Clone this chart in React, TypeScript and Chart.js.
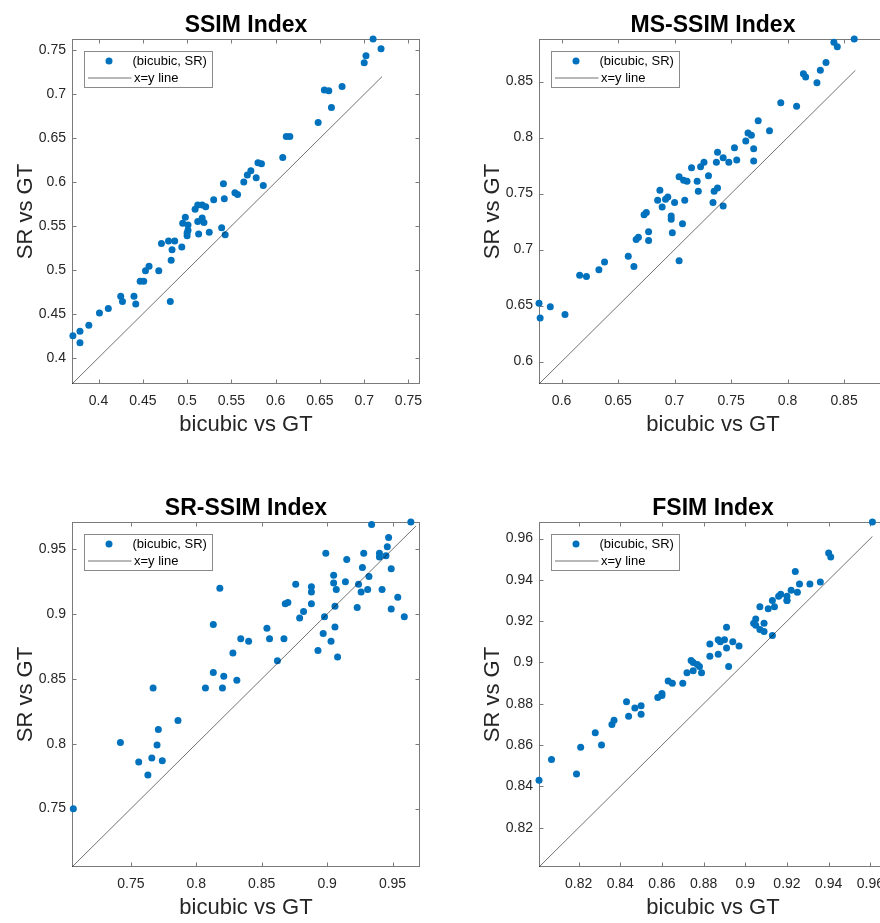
import React, { useEffect, useRef } from 'react';
import { Chart, registerables } from 'chart.js';

Chart.register(...registerables);

const FONT = "'Liberation Sans', Arial, Helvetica, sans-serif";
const BLUE = '#0072BD';
const TEXT = '#262626';

// ---------- SSIM ----------
const ssimBicubic = [0.371, 0.379, 0.379, 0.389, 0.401, 0.411, 0.425, 0.427, 0.440, 0.442,
  0.447, 0.451, 0.453, 0.457, 0.468, 0.481, 0.482, 0.471, 0.479, 0.486,
  0.483, 0.494, 0.495, 0.498, 0.501, 0.501, 0.500, 0.500, 0.513, 0.509,
  0.512, 0.517, 0.521, 0.512, 0.517, 0.519, 0.525, 0.539, 0.543, 0.530,
  0.542, 0.541, 0.554, 0.557, 0.564, 0.568, 0.572, 0.578, 0.580, 0.584,
  0.586, 0.608, 0.612, 0.616, 0.648, 0.663, 0.655, 0.660, 0.675, 0.700,
  0.702, 0.710, 0.719];
const ssimSR = [0.425, 0.430, 0.417, 0.437, 0.451, 0.456, 0.470, 0.464, 0.470, 0.461,
  0.487, 0.487, 0.499, 0.504, 0.499, 0.464, 0.511, 0.530, 0.533, 0.533,
  0.523, 0.526, 0.553, 0.560, 0.551, 0.545, 0.542, 0.539, 0.541, 0.569,
  0.574, 0.574, 0.572, 0.555, 0.559, 0.554, 0.543, 0.548, 0.540, 0.580,
  0.581, 0.598, 0.588, 0.586, 0.600, 0.608, 0.613, 0.605, 0.622, 0.621,
  0.596, 0.628, 0.652, 0.652, 0.668, 0.685, 0.705, 0.704, 0.709, 0.736,
  0.744, 0.763, 0.752];
const ssimRange = [0.370, 0.763];
const ssimLine = [0.370, 0.720];
const ssimTicks = [0.4, 0.45, 0.5, 0.55, 0.6, 0.65, 0.7, 0.75];
const ssimTickLabels = ['0.4', '0.45', '0.5', '0.55', '0.6', '0.65', '0.7', '0.75'];

// ---------- MS-SSIM ----------
const msBicubic = [0.580, 0.581, 0.590, 0.603, 0.616, 0.622, 0.633, 0.638, 0.659, 0.664,
  0.666, 0.668, 0.677, 0.677, 0.673, 0.675, 0.704, 0.698, 0.707, 0.697,
  0.697, 0.689, 0.685, 0.692, 0.700, 0.709, 0.734, 0.687, 0.694, 0.704,
  0.708, 0.711, 0.715, 0.720, 0.721, 0.723, 0.726, 0.730, 0.735, 0.738,
  0.743, 0.737, 0.738, 0.743, 0.748, 0.755, 0.753, 0.770, 0.770, 0.763,
  0.765, 0.768, 0.774, 0.784, 0.794, 0.808, 0.814, 0.816, 0.826, 0.829,
  0.834, 0.841, 0.844, 0.859];
const msSR = [0.652, 0.639, 0.649, 0.642, 0.677, 0.676, 0.682, 0.689, 0.694, 0.685,
  0.709, 0.711, 0.716, 0.708, 0.731, 0.733, 0.690, 0.715, 0.723, 0.730,
  0.727, 0.738, 0.744, 0.745, 0.742, 0.744, 0.742, 0.753, 0.747, 0.765,
  0.762, 0.761, 0.773, 0.761, 0.752, 0.774, 0.778, 0.766, 0.752, 0.755,
  0.739, 0.778, 0.787, 0.782, 0.778, 0.780, 0.791, 0.779, 0.790, 0.797,
  0.804, 0.802, 0.815, 0.806, 0.831, 0.828, 0.857, 0.854, 0.849, 0.860,
  0.867, 0.885, 0.881, 0.888];
const msRange = [0.580, 0.888];
const msLine = [0.580, 0.860];
const msTicks = [0.6, 0.65, 0.7, 0.75, 0.8, 0.85];
const msTickLabels = ['0.6', '0.65', '0.7', '0.75', '0.8', '0.85'];

// ---------- SR-SSIM ----------
const srBicubic = [0.818, 0.813, 0.834, 0.840, 0.828, 0.813, 0.821, 0.831, 0.767, 0.807,
  0.820, 0.854, 0.856, 0.867, 0.862, 0.868, 0.870, 0.876, 0.879, 0.882,
  0.888, 0.888, 0.888, 0.899, 0.898, 0.897, 0.893, 0.903, 0.906, 0.908,
  0.906, 0.905, 0.905, 0.907, 0.914, 0.915, 0.923, 0.924, 0.926, 0.927,
  0.928, 0.931, 0.932, 0.934, 0.940, 0.940, 0.945, 0.942, 0.946, 0.947,
  0.949, 0.949, 0.954, 0.959, 0.964, 0.706, 0.742, 0.756, 0.763, 0.766,
  0.770, 0.771, 0.774, 0.786];
const srSR = [0.920, 0.892, 0.881, 0.879, 0.870, 0.855, 0.852, 0.849, 0.843, 0.843,
  0.843, 0.889, 0.881, 0.881, 0.864, 0.908, 0.909, 0.923, 0.897, 0.902,
  0.921, 0.917, 0.908, 0.947, 0.898, 0.885, 0.872, 0.879, 0.890, 0.867,
  0.906, 0.930, 0.924, 0.919, 0.925, 0.942, 0.905, 0.923, 0.917, 0.936,
  0.947, 0.919, 0.929, 0.969, 0.947, 0.944, 0.945, 0.919, 0.952, 0.959,
  0.935, 0.904, 0.913, 0.898, 0.971, 0.750, 0.801, 0.786, 0.776, 0.789,
  0.799, 0.811, 0.787, 0.818];
const srRange = [0.705, 0.971];
const srLine = [0.705, 0.968];
const srXTicks = [0.75, 0.8, 0.85, 0.9, 0.95];
const srXTickLabels = ['0.75', '0.8', '0.85', '0.9', '0.95'];
const srYTicks = [0.75, 0.8, 0.85, 0.9, 0.95];
const srYTickLabels = ['0.75', '0.8', '0.85', '0.9', '0.95'];

// ---------- FSIM ----------
const fsimBicubic = [0.801, 0.807, 0.819, 0.821, 0.828, 0.831, 0.836, 0.837, 0.843, 0.844,
  0.847, 0.850, 0.850, 0.858, 0.860, 0.860, 0.863, 0.865, 0.870, 0.872,
  0.874, 0.875, 0.877, 0.878, 0.875, 0.879, 0.883, 0.883, 0.887, 0.887,
  0.888, 0.890, 0.891, 0.891, 0.892, 0.894, 0.897, 0.904, 0.905, 0.905,
  0.907, 0.909, 0.909, 0.907, 0.911, 0.914, 0.913, 0.913, 0.916, 0.917,
  0.920, 0.920, 0.920, 0.922, 0.925, 0.924, 0.926, 0.931, 0.936, 0.940,
  0.941, 0.961];
const fsimSR = [0.843, 0.853, 0.846, 0.859, 0.866, 0.860, 0.870, 0.872, 0.881, 0.874,
  0.878, 0.879, 0.875, 0.883, 0.884, 0.885, 0.891, 0.890, 0.890, 0.895,
  0.901, 0.900, 0.899, 0.898, 0.896, 0.895, 0.903, 0.909, 0.904, 0.911,
  0.910, 0.911, 0.917, 0.907, 0.898, 0.910, 0.908, 0.919, 0.921, 0.918,
  0.916, 0.915, 0.919, 0.927, 0.926, 0.927, 0.930, 0.913, 0.932, 0.933,
  0.930, 0.930, 0.932, 0.935, 0.934, 0.944, 0.938, 0.938, 0.939, 0.953,
  0.951, 0.968];
const fsimRange = [0.801, 0.968];
const fsimLine = [0.801, 0.961];
const fsimTicks = [0.82, 0.84, 0.86, 0.88, 0.9, 0.92, 0.94, 0.96];
const fsimTickLabels = ['0.82', '0.84', '0.86', '0.88', '0.9', '0.92', '0.94', '0.96'];

type Panel = {
  title: string;
  bicubic: number[];
  sr: number[];
  range: number[];
  line: number[];
  xTicks: number[];
  xLabels: string[];
  yTicks: number[];
  yLabels: string[];
  left: number;
  top: number;
};

const panels: Panel[] = [
  { title: 'SSIM Index', bicubic: ssimBicubic, sr: ssimSR, range: ssimRange, line: ssimLine,
    xTicks: ssimTicks, xLabels: ssimTickLabels, yTicks: ssimTicks, yLabels: ssimTickLabels, left: 0, top: 0 },
  { title: 'MS-SSIM Index', bicubic: msBicubic, sr: msSR, range: msRange, line: msLine,
    xTicks: msTicks, xLabels: msTickLabels, yTicks: msTicks, yLabels: msTickLabels, left: 467, top: 0 },
  { title: 'SR-SSIM Index', bicubic: srBicubic, sr: srSR, range: srRange, line: srLine,
    xTicks: srXTicks, xLabels: srXTickLabels, yTicks: srYTicks, yLabels: srYTickLabels, left: 0, top: 483 },
  { title: 'FSIM Index', bicubic: fsimBicubic, sr: fsimSR, range: fsimRange, line: fsimLine,
    xTicks: fsimTicks, xLabels: fsimTickLabels, yTicks: fsimTicks, yLabels: fsimTickLabels, left: 467, top: 483 },
];

const CW = 460;
const CH = 440;

function matlabPlugin(p: Panel) {
  return {
    id: 'matlabDecor',
    beforeDatasetsDraw(chart: any) {
      const { ctx, chartArea: a, scales } = chart;
      ctx.save();
      ctx.strokeStyle = '#7a7a7a';
      ctx.lineWidth = 1;
      const L = Math.round(a.left) + 0.5;
      const R = Math.round(a.right) - 0.5;
      const T = Math.round(a.top) + 0.5;
      const B = Math.round(a.bottom) - 0.5;
      ctx.strokeRect(L, T, R - L, B - T);
      const tl = 4;
      ctx.beginPath();
      p.xTicks.forEach((v) => {
        const x = Math.round(scales.x.getPixelForValue(v)) + 0.5;
        ctx.moveTo(x, B); ctx.lineTo(x, B - tl);
        ctx.moveTo(x, T); ctx.lineTo(x, T + tl);
      });
      p.yTicks.forEach((v) => {
        const y = Math.round(scales.y.getPixelForValue(v)) + 0.5;
        ctx.moveTo(L, y); ctx.lineTo(L + tl, y);
        ctx.moveTo(R, y); ctx.lineTo(R - tl, y);
      });
      ctx.stroke();
      ctx.restore();
    },
    afterDatasetsDraw(chart: any) {
      const { ctx, chartArea: a } = chart;
      ctx.save();
      // legend box
      const bx = a.left + 11.5;
      const by = a.top + 12;
      const bw = 128;
      const bh = 36;
      ctx.fillStyle = '#ffffff';
      ctx.fillRect(bx, by, bw, bh);
      ctx.strokeStyle = '#8a8a8a';
      ctx.lineWidth = 1;
      ctx.strokeRect(Math.round(bx) + 0.5, Math.round(by) + 0.5, bw, bh);
      ctx.fillStyle = BLUE;
      ctx.beginPath();
      ctx.arc(a.left + 37, a.top + 22, 3.5, 0, Math.PI * 2);
      ctx.fill();
      ctx.strokeStyle = 'rgba(0,0,0,0.8)';
      ctx.lineWidth = 0.7;
      ctx.beginPath();
      ctx.moveTo(a.left + 16, a.top + 39);
      ctx.lineTo(a.left + 59.5, a.top + 39);
      ctx.stroke();
      ctx.fillStyle = '#000000';
      ctx.font = `13px ${FONT}`;
      ctx.textAlign = 'left';
      ctx.textBaseline = 'middle';
      ctx.fillText('(bicubic, SR)', a.left + 60.5, a.top + 22);
      ctx.fillText('x=y line', a.left + 62, a.top + 39);
      ctx.restore();
    },
    afterDraw(chart: any) {
      const { ctx, chartArea: a } = chart;
      ctx.save();
      ctx.fillStyle = '#000000';
      ctx.font = `bold 23px ${FONT}`;
      ctx.textAlign = 'center';
      ctx.textBaseline = 'alphabetic';
      ctx.fillText(p.title, (a.left + a.right) / 2, a.top - 7);
      ctx.restore();
    },
  };
}

function makeConfig(p: Panel): any {
  const points = p.bicubic.map((x, i) => ({ x, y: p.sr[i] }));
  const lineData = [
    { x: p.line[0], y: p.line[0] },
    { x: p.line[1], y: p.line[1] },
  ];
  const tickFont = { family: FONT, size: 14 };
  const titleFont = { family: FONT, size: 22 };
  return {
    type: 'scatter',
    data: {
      datasets: [
        {
          label: 'x=y line',
          data: lineData,
          showLine: true,
          borderColor: 'rgba(0,0,0,0.8)',
          borderWidth: 0.7,
          pointRadius: 0,
          fill: false,
        },
        {
          label: '(bicubic, SR)',
          data: points,
          pointRadius: 3.5,
          pointHoverRadius: 3.5,
          backgroundColor: BLUE,
          borderWidth: 0,
          clip: false,
        },
      ],
    },
    options: {
      responsive: false,
      animation: false,
      events: [],
      layout: { padding: { left: 0, top: 39, right: 40, bottom: 0 } },
      plugins: {
        legend: { display: false },
        tooltip: { enabled: false },
        title: { display: false },
      },
      scales: {
        x: {
          type: 'linear',
          position: 'bottom',
          min: p.range[0],
          max: p.range[1],
          afterBuildTicks: (s: any) => { s.ticks = p.xTicks.map((v) => ({ value: v })); },
          afterFit: (s: any) => { s.height = CH - 384; },
          grid: { display: false, drawTicks: false },
          border: { display: false },
          ticks: {
            autoSkip: false,
            maxRotation: 0,
            padding: 9,
            color: TEXT,
            font: tickFont,
            callback: (_v: any, i: number) => p.xLabels[i],
          },
          title: {
            display: true,
            text: 'bicubic vs GT',
            color: TEXT,
            font: titleFont,
            padding: { top: 0, bottom: 2 },
          },
        },
        y: {
          type: 'linear',
          position: 'left',
          min: p.range[0],
          max: p.range[1],
          afterBuildTicks: (s: any) => { s.ticks = p.yTicks.map((v) => ({ value: v })); },
          afterFit: (s: any) => { s.width = 72; },
          grid: { display: false, drawTicks: false },
          border: { display: false },
          ticks: {
            autoSkip: false,
            padding: 6,
            color: TEXT,
            font: tickFont,
            callback: (_v: any, i: number) => p.yLabels[i],
          },
          title: {
            display: true,
            text: 'SR vs GT',
            color: TEXT,
            font: titleFont,
            padding: { top: 13, bottom: 0 },
          },
        },
      },
    },
    plugins: [matlabPlugin(p)],
  };
}

export default function App() {
  const r0 = useRef<HTMLCanvasElement>(null);
  const r1 = useRef<HTMLCanvasElement>(null);
  const r2 = useRef<HTMLCanvasElement>(null);
  const r3 = useRef<HTMLCanvasElement>(null);
  const refs = [r0, r1, r2, r3];

  useEffect(() => {
    Chart.defaults.font.family = FONT;
    const charts = panels.map((p, i) => new Chart(refs[i].current as HTMLCanvasElement, makeConfig(p)));
    return () => charts.forEach((c) => c.destroy());
  }, []);

  return (
    <div
      style={{
        position: 'fixed',
        left: 0,
        top: 0,
        width: 880,
        height: 923,
        overflow: 'hidden',
        background: '#ffffff',
      }}
    >
      {panels.map((p, i) => (
        <canvas
          key={p.title}
          ref={refs[i]}
          width={CW}
          height={CH}
          style={{ position: 'absolute', left: p.left, top: p.top, width: CW, height: CH }}
        />
      ))}
    </div>
  );
}
